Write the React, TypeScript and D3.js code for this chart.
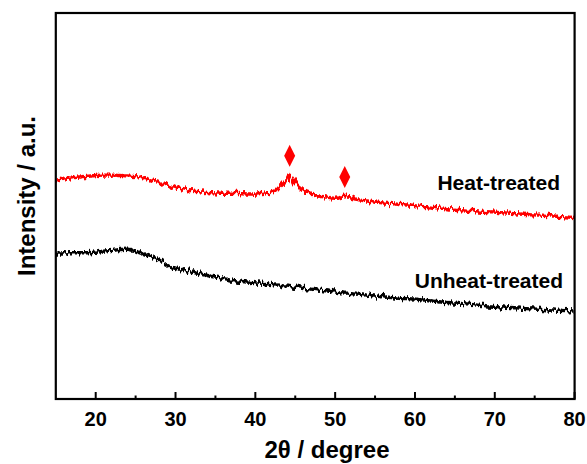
import React from "react";
import * as d3 from "d3";

// 2θ (degree) sample positions and intensities (a.u.)
const unheatX = [15, 17, 19, 21, 23, 24, 25, 26, 27, 28, 29, 30, 31, 32, 33, 34, 35, 36, 37, 38, 39, 40, 42, 44, 46, 48, 50, 52, 54, 56, 58, 60, 62, 64, 66, 68, 70, 72, 74, 76, 78, 80];
const unheatY = [37.8, 37.9, 37.9, 38.3, 38.7, 38.8, 38.3, 37.6, 36.8, 35.8, 34.7, 33.9, 33.3, 32.9, 32.5, 32.0, 31.6, 31.2, 30.8, 30.5, 30.3, 30.1, 29.7, 29.2, 28.7, 28.2, 27.7, 27.3, 26.9, 26.5, 26.1, 25.9, 25.4, 25.0, 24.7, 24.3, 24.0, 23.7, 23.4, 23.2, 23.0, 22.8];

const heatX = [15, 16, 17, 18, 19, 20, 21, 22, 23, 24, 25, 26, 27, 28, 29, 30, 31, 32, 33, 34, 35, 36, 37, 38, 39, 40, 41, 42, 43, 43.5, 44, 44.3, 44.7, 45, 45.5, 46, 47, 48, 49, 50, 50.8, 51.3, 51.8, 53, 54, 56, 58, 60, 62, 64, 66, 68, 70, 72, 74, 76, 78, 80];
const heatY = [56.7, 57.0, 57.3, 57.5, 57.7, 57.9, 58.0, 58.0, 57.9, 57.8, 57.6, 57.2, 56.7, 56.0, 55.3, 54.8, 54.4, 54.0, 53.7, 53.5, 53.4, 53.3, 53.3, 53.2, 53.1, 53.1, 53.3, 53.7, 54.6, 55.5, 57.0, 58.0, 57.0, 55.8, 54.8, 54.1, 53.2, 52.6, 52.3, 52.0, 52.3, 52.8, 52.2, 51.6, 51.3, 50.8, 50.4, 50.1, 49.7, 49.3, 49.0, 48.7, 48.4, 48.1, 47.8, 47.6, 47.3, 47.0];

const markerX = [44.3, 51.2];
const markerY = [63.0, 57.5];

const majorTicks = [20, 30, 40, 50, 60, 70, 80];
const minorTicks = [25, 35, 45, 55, 65, 75];

const W = 587;
const H = 464;
const left = 55.8;
const right = 574.6;
const top = 13;
const bottom = 399;

const x = d3.scaleLinear().domain([15, 80]).range([left, right]);
const y = d3.scaleLinear().domain([0, 100]).range([bottom, top]);

const line = d3
  .line<[number, number]>()
  .x((d) => x(d[0]))
  .y((d) => y(d[1]))
  .curve(d3.curveMonotoneX);

const FONT = "'Liberation Sans', Arial, sans-serif";

export default function App() {
  const unheat = unheatX.map((v, i) => [v, unheatY[i]] as [number, number]);
  const heat = heatX.map((v, i) => [v, heatY[i]] as [number, number]);
  return (
    <svg width={W} height={H} style={{ position: "absolute", left: 0, top: 0 }}>
      <defs>
        <filter id="noise" x="-5%" y="-200%" width="110%" height="500%">
          <feTurbulence type="fractalNoise" baseFrequency="0.45 0.04" numOctaves={2} seed={3} result="t" />
          <feDisplacementMap in="SourceGraphic" in2="t" scale={9} xChannelSelector="R" yChannelSelector="G" />
        </filter>
      </defs>
      <rect x={0} y={0} width={W} height={H} fill="#fff" />
      <g filter="url(#noise)">
        <path d={line(heat) ?? ""} fill="none" stroke="#ff0000" strokeWidth={3.4} />
        <path d={line(unheat) ?? ""} fill="none" stroke="#000" strokeWidth={3.4} />
      </g>
      {markerX.map((mx, i) => {
        const cx = x(mx);
        const cy = y(markerY[i]);
        return (
          <path
            key={i}
            d={`M${cx},${cy - 11}L${cx + 5.5},${cy}L${cx},${cy + 11}L${cx - 5.5},${cy}Z`}
            fill="#ff0000"
          />
        );
      })}
      <rect x={left} y={top} width={right - left} height={bottom - top} fill="none" stroke="#000" strokeWidth={2.2} />
      {majorTicks.map((t) => (
        <line key={"M" + t} x1={x(t)} x2={x(t)} y1={bottom} y2={bottom - 7} stroke="#000" strokeWidth={2} />
      ))}
      {minorTicks.map((t) => (
        <line key={"m" + t} x1={x(t)} x2={x(t)} y1={bottom} y2={bottom - 3.5} stroke="#000" strokeWidth={2} />
      ))}
      {majorTicks.map((t) => (
        <text key={"l" + t} x={x(t)} y={426} textAnchor="middle" fontFamily={FONT} fontWeight="bold" fontSize={20}>
          {t}
        </text>
      ))}
      <text x={327} y={458} textAnchor="middle" fontFamily={FONT} fontWeight="bold" fontSize={24}>
        2θ / degree
      </text>
      <text
        transform={`translate(35,196) rotate(-90)`}
        textAnchor="middle"
        fontFamily={FONT}
        fontWeight="bold"
        fontSize={24}
      >
        Intensity / a.u.
      </text>
      <text x={560} y={190} textAnchor="end" fontFamily={FONT} fontWeight="bold" fontSize={21}>
        Heat-treated
      </text>
      <text x={563} y={288} textAnchor="end" fontFamily={FONT} fontWeight="bold" fontSize={21}>
        Unheat-treated
      </text>
    </svg>
  );
}
